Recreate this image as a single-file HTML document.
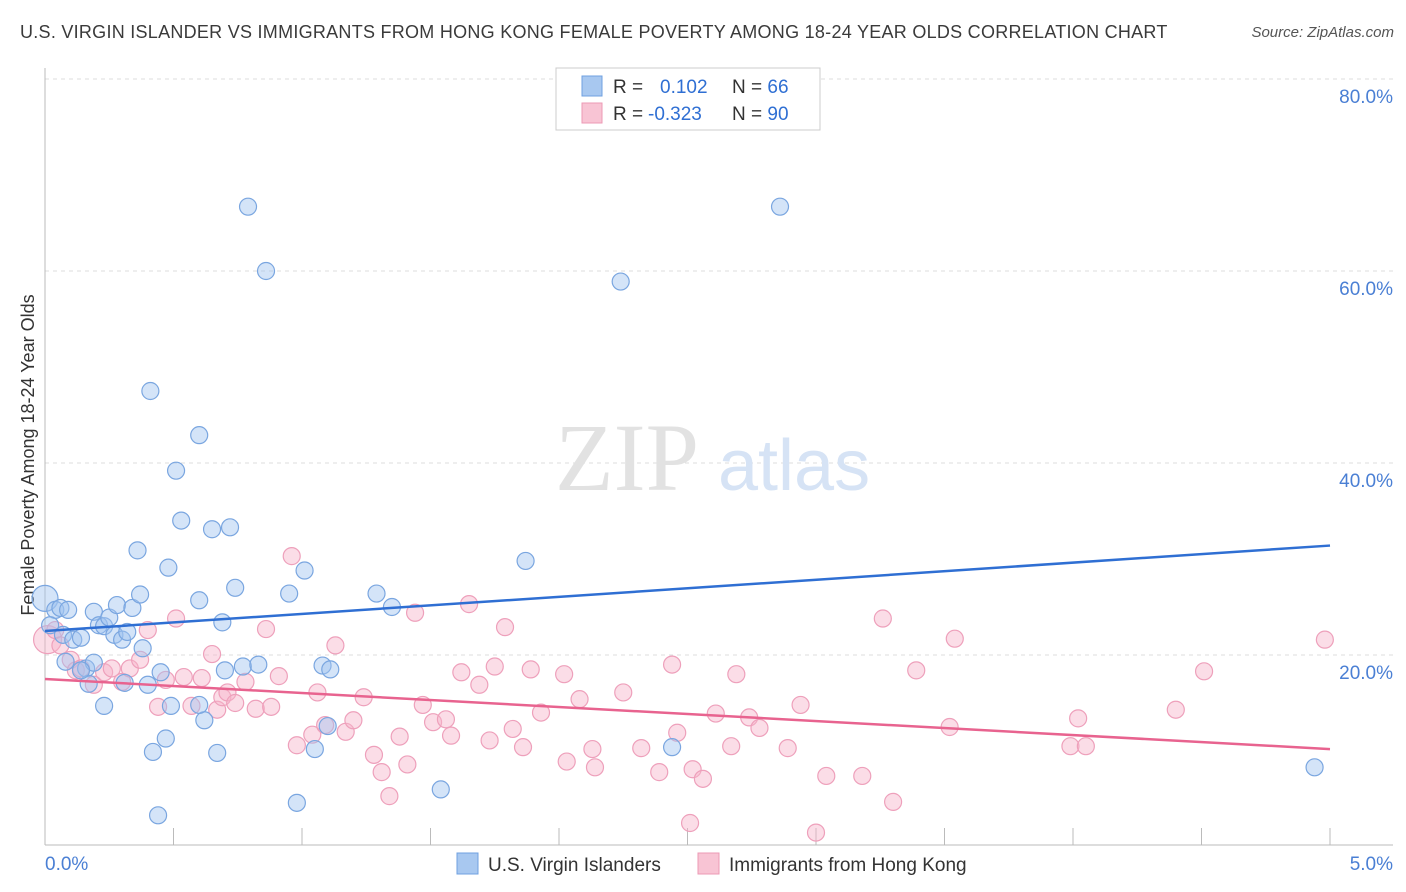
<!DOCTYPE html>
<html><head><meta charset="utf-8">
<style>
body{margin:0;background:#fff;font-family:"Liberation Sans",sans-serif;}
#wrap{position:relative;width:1406px;height:892px;overflow:hidden;}
.title{position:absolute;left:20px;top:22px;font-size:18px;color:#3a3a3a;letter-spacing:0.27px;}
.source{position:absolute;right:12px;top:24px;font-size:15px;color:#555;font-style:italic;}
</style></head>
<body>
<div id="wrap">
<div class="title">U.S. VIRGIN ISLANDER VS IMMIGRANTS FROM HONG KONG FEMALE POVERTY AMONG 18-24 YEAR OLDS CORRELATION CHART</div>
<div class="source">Source: ZipAtlas.com</div>
<svg id="svg" width="1406" height="892" style="position:absolute;left:0;top:0"></svg>
</div>
<script>
const yTickVals=[20,40,60,80];
const yTickLabels=["20.0%","40.0%","60.0%","80.0%"];
const xTickVals=[0,0.5,1,1.5,2,2.5,3,3.5,4,4.5,5];
const xEndLabels=["0.0%","5.0%"];
const blueX=[0.00,0.04,0.06,0.09,0.02,0.07,0.11,0.14,0.19,0.21,0.23,0.25,0.27,0.28,0.30,0.32,0.34,0.37,0.38,0.40,0.08,0.16,0.17,0.23,0.31,0.41,0.45,0.48,0.49,0.51,0.53,0.60,0.60,0.62,0.65,0.67,0.69,0.70,0.72,0.74,0.77,0.79,0.83,0.86,0.95,0.98,1.01,1.05,1.08,1.10,1.11,1.29,1.35,1.54,1.87,2.24,2.44,2.86,4.94,0.44,0.42,0.47,0.36,0.19,0.60,0.14];
const blueY=[25.9,24.7,24.9,24.7,23.1,22.1,21.6,21.8,24.5,23.1,23.0,23.9,22.1,25.2,21.6,22.4,24.9,26.3,20.7,16.9,19.3,18.6,17.0,14.7,17.1,47.5,18.2,29.1,14.7,39.2,34.0,25.7,42.9,13.2,33.1,9.8,23.4,18.4,33.3,27.0,18.8,66.7,19.0,60.0,26.4,4.6,28.8,10.2,18.9,12.6,18.5,26.4,25.0,6.0,29.8,58.9,10.4,66.7,8.3,3.3,9.9,11.3,30.9,19.2,14.8,18.4];
const pinkX=[0.01,0.04,0.06,0.10,0.12,0.14,0.19,0.23,0.26,0.30,0.33,0.37,0.40,0.44,0.47,0.51,0.54,0.57,0.61,0.65,0.67,0.69,0.71,0.74,0.78,0.82,0.86,0.88,0.91,0.96,0.98,1.04,1.06,1.09,1.13,1.17,1.20,1.24,1.28,1.31,1.34,1.38,1.41,1.44,1.47,1.51,1.56,1.58,1.62,1.65,1.69,1.73,1.75,1.79,1.82,1.86,1.89,1.93,2.03,2.02,2.08,2.13,2.14,2.25,2.32,2.39,2.44,2.46,2.51,2.52,2.56,2.61,2.67,2.69,2.74,2.78,2.89,2.94,3.04,3.00,3.18,3.26,3.30,3.39,3.52,3.54,3.99,4.02,4.05,4.40,4.51,4.98];
const pinkY=[21.6,22.6,21.0,19.5,18.4,18.6,16.9,18.2,18.6,17.2,18.6,19.5,22.6,14.6,17.4,23.8,17.7,14.7,17.6,20.1,14.3,15.6,16.1,15.0,17.2,14.4,22.7,14.6,17.8,30.3,10.6,11.7,16.1,12.7,21.0,12.0,13.2,15.6,9.6,7.8,5.3,11.5,8.6,24.4,14.8,13.0,13.3,11.6,18.2,25.3,16.9,11.1,18.8,22.9,12.3,10.4,18.5,14.0,8.9,18.0,15.4,10.2,8.3,16.1,10.3,7.8,19.0,11.9,2.5,8.1,7.1,13.9,10.5,18.0,13.5,12.4,10.3,14.8,7.4,1.5,7.4,23.8,4.7,18.4,12.5,21.7,10.5,13.4,10.5,14.3,18.3,21.6];
const blueTrend=[22.5,31.4];
const pinkTrend=[17.5,10.2];

const NS="http://www.w3.org/2000/svg";
const svg=document.getElementById('svg');
const X=v=>45+v*257;
const Y=v=>847-v*9.6;
function mk(tag,attrs,parent){const e=document.createElementNS(NS,tag);for(const k in attrs)e.setAttribute(k,attrs[k]);(parent||svg).appendChild(e);return e;}

yTickVals.forEach((v,i)=>{
 const g=mk('line',{x1:45,x2:1393,y1:Y(v),y2:Y(v),stroke:'#ddd','stroke-dasharray':'4,4'});
 
 
 const t=mk('text',{x:1393,y:Y(v)+24,'text-anchor':'end','font-size':19,fill:'#4a7fd4','font-family':'Liberation Sans, sans-serif'});
 t.textContent=yTickLabels[i];
 
 
});
const tg=mk('line',{x1:45,x2:1393,y1:79,y2:79,stroke:'#ddd','stroke-dasharray':'4,4'});


const ya=mk('line',{x1:45,x2:45,y1:68,y2:845,stroke:'#bbb'});


const xa=mk('line',{x1:45,x2:1393,y1:845,y2:845,stroke:'#bbb'});


xTickVals.forEach(v=>{
 const t=mk('line',{x1:X(v),x2:X(v),y1:828,y2:845,stroke:'#bbb'});
 
 
});
[[0,'start',45],[5,'end',1393]].forEach((a,i)=>{
 const t=mk('text',{x:a[2],y:870,'text-anchor':a[1],'font-size':19,fill:'#4a7fd4','font-family':'Liberation Sans, sans-serif'});
 t.textContent=xEndLabels[i];
 
 
});
const yt=mk('text',{x:0,y:0,transform:'translate(34,455) rotate(-90)','text-anchor':'middle','font-size':18,fill:'#333','font-family':'Liberation Sans, sans-serif'});
yt.textContent='Female Poverty Among 18-24 Year Olds';


const wm=mk('text',{x:555,y:490,'font-size':96,fill:'#e2e2e2','font-family':'Liberation Serif, serif'});
wm.textContent='ZIP';


const wm2=mk('text',{x:718,y:490,'font-size':72,fill:'#d6e3f5','font-family':'Liberation Sans, sans-serif'});
wm2.textContent='atlas';


pinkX.forEach((x,i)=>{
 const c=mk('circle',{cx:X(x),cy:Y(pinkY[i]),r:i==0?14:8.5,fill:'rgba(246,180,202,0.45)',stroke:'#eea0bb','stroke-width':1.2});
 
 
});
blueX.forEach((x,i)=>{
 const c=mk('circle',{cx:X(x),cy:Y(blueY[i]),r:i==0?13:8.5,fill:'rgba(160,195,240,0.45)',stroke:'#7aa6e0','stroke-width':1.2});
 
 
});
const bl=mk('line',{x1:X(0),x2:X(5),y1:Y(blueTrend[0]),y2:Y(blueTrend[1]),stroke:'#2f6fd3','stroke-width':2.5});


const pl=mk('line',{x1:X(0),x2:X(5),y1:Y(pinkTrend[0]),y2:Y(pinkTrend[1]),stroke:'#e8638f','stroke-width':2.5});


const lb=mk('rect',{x:556,y:68,width:264,height:62,fill:'#fff',stroke:'#ccc'});


const rows=[['#a8c8f0','#6fa0e0','0.102','66',660],['#f8c4d4','#ec9ab5','-0.323','90',648]];
rows.forEach((r,i)=>{
 const y=86+i*27;
 const s=mk('rect',{x:582,y:y-10,width:20,height:20,fill:r[0],stroke:r[1]});
 
 
 const t=mk('text',{x:613,y:y+7,'font-size':19,fill:'#333','font-family':'Liberation Sans, sans-serif'});
 t.innerHTML='R = <tspan x="'+r[4]+'" fill="#2f6fd3">'+r[2]+'</tspan><tspan x="732">N = </tspan><tspan fill="#2f6fd3">'+r[3]+'</tspan>';
 
 
});
[['#a8c8f0','#6fa0e0','U.S. Virgin Islanders',457],['#f8c4d4','#ec9ab5','Immigrants from Hong Kong',698]].forEach(r=>{
 const s=mk('rect',{x:r[3],y:853,width:21,height:21,fill:r[0],stroke:r[1]});
 
 
 const t=mk('text',{x:r[3]+31,y:871,'font-size':19,fill:'#333','font-family':'Liberation Sans, sans-serif'});
 t.textContent=r[2];
 
 
});
</script>
</body></html>
